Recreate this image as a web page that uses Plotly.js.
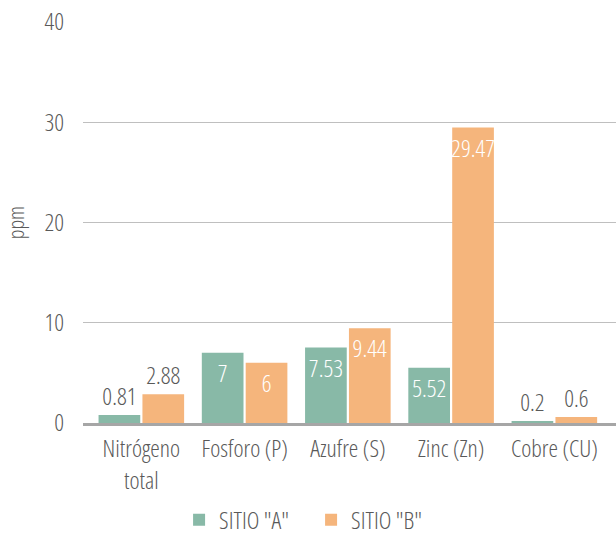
<!DOCTYPE html>
<html>
<head>
<meta charset="utf-8">
<script src="https://cdn.plot.ly/plotly-3.0.1.min.js"></script>
<style>
html,body{margin:0;padding:0;background:#fff;}
#chart{width:616px;height:533px;}
#chart text{font-stretch:75% !important;}
</style>
</head>
<body>
<div id="chart"></div>
<script>
const categories = ["Nitrógeno<br>total", "Fosforo (P)", "Azufre (S)", "Zinc (Zn)", "Cobre (CU)"];
const sitioA = [0.81, 7, 7.53, 5.52, 0.2];
const sitioB = [2.88, 6, 9.44, 29.47, 0.6];
const seriesNames = ['SITIO "A"', 'SITIO "B"'];
const yTicks = [0, 10, 20, 30, 40];

const FONT = "'Open Sans', 'DejaVu Sans Condensed', sans-serif";
const GRAY = "#595959";
const FS = 24;

function posFor(vals) { return vals.map(v => v < 3 ? "outside" : "inside"); }
function colFor(vals) { return vals.map(v => v < 3 ? GRAY : "#ffffff"); }

const traces = [
  {type: "bar", name: seriesNames[0], x: categories, y: sitioA,
   marker: {color: "#88b9a7"}, text: sitioA.map(String), textposition: posFor(sitioA),
   insidetextanchor: "end", textangle: 0, constraintext: "none",
   textfont: {family: FONT, size: FS, weight: 300, color: colFor(sitioA)},
   cliponaxis: false, hoverinfo: "none"},
  {type: "bar", name: seriesNames[1], x: categories, y: sitioB,
   marker: {color: "#f5b57c"}, text: sitioB.map(String), textposition: posFor(sitioB),
   insidetextanchor: "end", textangle: 0, constraintext: "none",
   textfont: {family: FONT, size: FS, weight: 300, color: colFor(sitioB)},
   cliponaxis: false, hoverinfo: "none"}
];

const layout = {
  width: 616, height: 533,
  margin: {l: 83, r: 0, t: 22, b: 110},
  paper_bgcolor: "#ffffff", plot_bgcolor: "#ffffff",
  font: {family: FONT, size: FS, weight: 300, color: GRAY},
  barmode: "group", bargap: 0.15, bargroupgap: 0.05,
  showlegend: true,
  legend: {orientation: "h", xref: "container", yref: "container", x: 0.505, xanchor: "center",
           y: 0.024, yanchor: "middle", font: {family: FONT, size: FS, weight: 300, color: GRAY},
           entrywidth: 87, itemclick: false},
  xaxis: {type: "category", range: [-0.565, 4.597], showline: true, linecolor: "#a6a6a6",
          linewidth: 2.5, ticks: "", showgrid: false, tickangle: 0, ticklabelstandoff: 3,
          tickfont: {family: FONT, size: FS, weight: 300, color: GRAY}, fixedrange: true},
  xaxis2: {overlaying: "x", anchor: "y", side: "bottom", range: [-0.565, 4.597], type: "linear",
           tickmode: "array", tickvals: [0.5, 1.5, 2.5, 3.5], ticks: "outside", ticklen: 14,
           tickwidth: 2, tickcolor: "#a6a6a6", showticklabels: false, showgrid: false,
           showline: false, zeroline: false, fixedrange: true},
  yaxis: {range: [0, 40], tickmode: "array", tickvals: yTicks, ticktext: yTicks.map(String),
          showgrid: true, gridcolor: "#bfbfbf", gridwidth: 1, zeroline: false, showline: false,
          ticks: "", ticklabelstandoff: 18, tickfont: {family: FONT, size: FS, weight: 300, color: GRAY},
          title: {text: "ppm", font: {family: FONT, size: 22, weight: 300, color: GRAY}, standoff: 12},
          fixedrange: true}
};

Plotly.newPlot("chart", traces, layout, {staticPlot: true, displayModeBar: false});
</script>
</body>
</html>
